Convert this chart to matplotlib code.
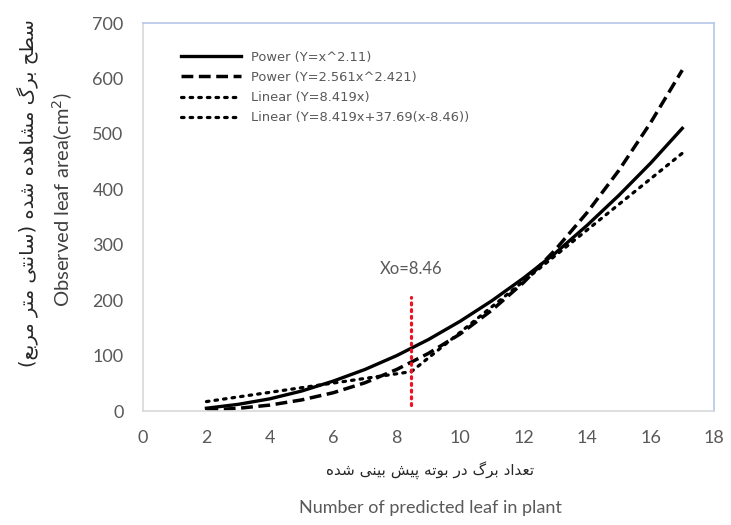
import numpy as np
import matplotlib as mpl
import matplotlib.pyplot as plt

mpl.rcParams['font.family'] = ['Lato', 'DejaVu Sans']

# Valeurs
x_curve = [2, 3, 4, 5, 6, 7, 8, 9, 10, 11, 12, 13, 14, 15, 16, 17]
y_power1 = [5, 12, 22, 36, 54, 75, 100, 129, 162, 199, 240, 285, 335, 389, 447, 510]
y_power2 = [1.5, 4.8, 10.7, 20, 33, 51, 75, 104, 139, 182, 232, 291, 358, 434, 520, 615]
x_lin1 = [2, 8.46]
y_lin1 = [17, 71]
x_lin2 = [8.46, 17]
y_lin2 = [71, 465]
x0 = 8.46
x0_span = [10, 205]

labels = ['Power (Y=x^2.11)', 'Power (Y=2.561x^2.421)',
          'Linear (Y=8.419x)', 'Linear (Y=8.419x+37.69(x-8.46))']

ylabel_fa = 'سطح برگ مشاهده شده (سانتی متر مربع)'
xlabel_fa = 'تعداد برگ در بوته پیش بینی شده'

# Formes contextuelles (isolée, finale, initiale, médiane)
FORMS = {
    'ا': ('\uFE8D', '\uFE8E', None, None),
    'ب': ('\uFE8F', '\uFE90', '\uFE91', '\uFE92'),
    'ت': ('\uFE95', '\uFE96', '\uFE97', '\uFE98'),
    'ح': ('\uFEA1', '\uFEA2', '\uFEA3', '\uFEA4'),
    'د': ('\uFEA9', '\uFEAA', None, None),
    'ر': ('\uFEAD', '\uFEAE', None, None),
    'س': ('\uFEB1', '\uFEB2', '\uFEB3', '\uFEB4'),
    'ش': ('\uFEB5', '\uFEB6', '\uFEB7', '\uFEB8'),
    'ط': ('\uFEC1', '\uFEC2', '\uFEC3', '\uFEC4'),
    'ع': ('\uFEC9', '\uFECA', '\uFECB', '\uFECC'),
    'م': ('\uFEE1', '\uFEE2', '\uFEE3', '\uFEE4'),
    'ن': ('\uFEE5', '\uFEE6', '\uFEE7', '\uFEE8'),
    'ه': ('\uFEE9', '\uFEEA', '\uFEEB', '\uFEEC'),
    'و': ('\uFEED', '\uFEEE', None, None),
    'پ': ('\uFB56', '\uFB57', '\uFB58', '\uFB59'),
    'گ': ('\uFB92', '\uFB93', '\uFB94', '\uFB95'),
    'ی': ('\uFBFC', '\uFBFD', '\uFBFE', '\uFBFF'),
}


def farsi(s):
    # matplotlib ne fait pas le shaping arabe : formes contextuelles + ordre visuel
    out = []
    for i, c in enumerate(s):
        if c not in FORMS:
            out.append(c)
            continue
        prev = s[i - 1] if i > 0 else ''
        nxt = s[i + 1] if i + 1 < len(s) else ''
        join_prev = prev in FORMS and FORMS[prev][2] is not None
        join_next = FORMS[c][2] is not None and nxt in FORMS
        f = FORMS[c]
        if join_prev and join_next:
            out.append(f[3])
        elif join_prev:
            out.append(f[1])
        elif join_next:
            out.append(f[2])
        else:
            out.append(f[0])
    vis = ''.join(reversed(out))
    return vis.translate(str.maketrans('()', ')('))


fig = plt.figure(figsize=(7.31, 5.25), dpi=100)
ax = fig.add_axes([143 / 731, 1 - 411 / 525, 571 / 731, 388 / 525])

ax.plot(x_curve, y_power1, color='black', lw=2.4, label=labels[0])
ax.plot(x_curve, y_power2, color='black', lw=2.5, ls=(0, (3.4, 1.6)), label=labels[1])
ax.plot(x_lin1, y_lin1, color='black', lw=2.3, ls=(0, (0.8, 1.9)),
        dash_capstyle='round', label=labels[2])
ax.plot(x_lin2, y_lin2, color='black', lw=2.3, ls=(0, (0.8, 1.9)),
        dash_capstyle='round', label=labels[3])
ax.plot([x0, x0], x0_span, color='#ee1122', lw=2.3, ls=(0, (0.6, 1.5)),
        dash_capstyle='round')
ax.text(x0, 256, 'Xo=8.46', ha='center', va='center', fontsize=12, color='#595959')

ax.set_xlim(0, 18)
ax.set_ylim(0, 700)
ax.set_xticks(np.arange(0, 19, 2))
ax.set_yticks(np.arange(0, 701, 100))
ax.tick_params(length=0, labelsize=13, labelcolor='#595959')
ax.tick_params(axis='x', pad=14)
ax.tick_params(axis='y', pad=14)

for side in ['left', 'bottom']:
    ax.spines[side].set_color('#d9d9d9')
for side in ['top', 'right']:
    ax.spines[side].set_color('#b4c7e7')
for sp in ax.spines.values():
    sp.set_linewidth(1.2)

leg = ax.legend(loc='upper left', bbox_to_anchor=(0.055, 0.945), frameon=False,
                handlelength=4.6, handletextpad=0.8, labelspacing=0.55,
                borderpad=0, prop={'family': 'DejaVu Sans', 'size': 9.4})
for t in leg.get_texts():
    t.set_color('#595959')

fig.text(430 / 731, 1 - 470 / 525, farsi(xlabel_fa), ha='center', va='center',
         fontsize=11, family='DejaVu Sans', color='#262626')
fig.text(430 / 731, 1 - 508 / 525, 'Number of predicted leaf in plant', ha='center',
         va='center', fontsize=13, color='#595959')
fig.text(28 / 731, 1 - 193 / 525, farsi(ylabel_fa), ha='center', va='center',
         rotation=90, fontsize=14, family='DejaVu Sans', color='#262626')
fig.text(63 / 731, 1 - 200 / 525, 'Observed leaf area(cm$^2$)', ha='center',
         va='center', rotation=90, fontsize=14.5, color='#404040')

plt.savefig('out.png', dpi=100)
